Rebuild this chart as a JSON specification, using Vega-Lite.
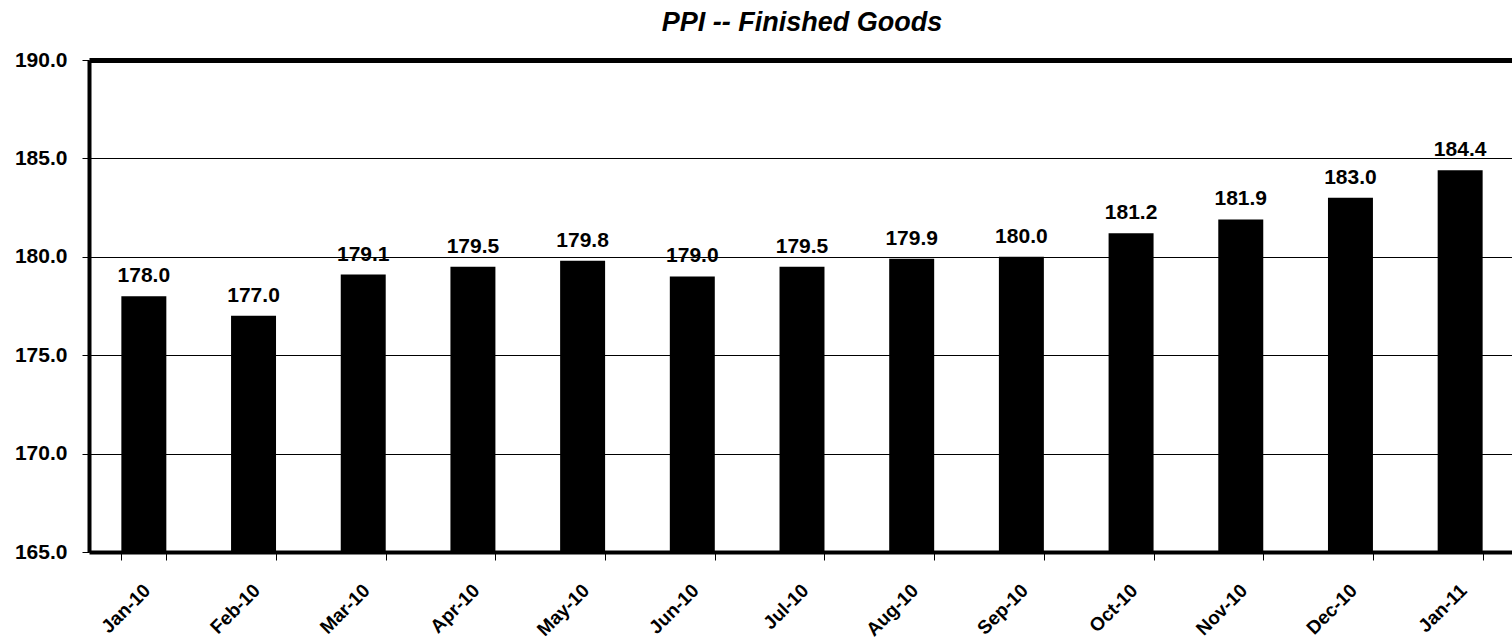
{
  "$schema": "https://vega.github.io/schema/vega-lite/v6.json",
  "width": 1426,
  "height": 492,
  "autosize": {"type": "none"},
  "padding": {"left": 89, "top": 60, "right": 0, "bottom": 89},
  "background": "white",
  "config": {"view": {"stroke": null}, "font": "Liberation Sans"},
  "title": {
    "text": "PPI -- Finished Goods",
    "font": "Liberation Sans",
    "fontSize": 27,
    "fontWeight": "bold",
    "fontStyle": "italic",
    "color": "black",
    "anchor": "middle",
    "offset": 12
  },
  "data": {
    "values": [
      {"month": "Jan-10", "value": 178.0},
      {"month": "Feb-10", "value": 177.0},
      {"month": "Mar-10", "value": 179.1},
      {"month": "Apr-10", "value": 179.5},
      {"month": "May-10", "value": 179.8},
      {"month": "Jun-10", "value": 179.0},
      {"month": "Jul-10", "value": 179.5},
      {"month": "Aug-10", "value": 179.9},
      {"month": "Sep-10", "value": 180.0},
      {"month": "Oct-10", "value": 181.2},
      {"month": "Nov-10", "value": 181.9},
      {"month": "Dec-10", "value": 183.0},
      {"month": "Jan-11", "value": 184.4}
    ]
  },
  "encoding": {
    "x": {
      "field": "month",
      "type": "nominal",
      "sort": null,
      "scale": {"paddingInner": 0.59, "paddingOuter": 0.295},
      "axis": {
        "title": null,
        "labelAngle": -45,
        "labelAlign": "right",
        "labelBaseline": "middle",
        "labelFont": "Liberation Sans",
        "labelFontSize": 19,
        "labelFontWeight": "bold",
        "labelColor": "black",
        "labelPadding": 27,
        "labelOffset": 3,
        "tickBand": "extent",
        "tickSize": 8,
        "tickColor": "black",
        "tickWidth": 1,
        "domainColor": "black",
        "domainWidth": 4,
        "grid": false
      }
    },
    "y": {
      "field": "value",
      "type": "quantitative",
      "scale": {"domain": [165, 190], "zero": false, "nice": false},
      "axis": {
        "title": null,
        "values": [165, 170, 175, 180, 185, 190],
        "format": ".1f",
        "labelFont": "Liberation Sans",
        "labelFontSize": 21,
        "labelFontWeight": "bold",
        "labelColor": "black",
        "labelPadding": 15,
        "tickSize": 7,
        "tickColor": "black",
        "tickWidth": 1,
        "domainColor": "black",
        "domainWidth": 4,
        "grid": true,
        "gridColor": "black",
        "gridOpacity": 1,
        "gridWidth": {"condition": {"test": "datum.value == 190", "value": 5}, "value": 1}
      }
    }
  },
  "layer": [
    {"mark": {"type": "bar", "color": "black"}, "encoding": {"y2": {"datum": 165}}},
    {
      "mark": {
        "type": "text",
        "font": "Liberation Sans",
        "fontSize": 21,
        "fontWeight": "bold",
        "color": "black",
        "baseline": "alphabetic",
        "dy": -14
      },
      "encoding": {"text": {"field": "value", "type": "quantitative", "format": ".1f"}}
    }
  ]
}
